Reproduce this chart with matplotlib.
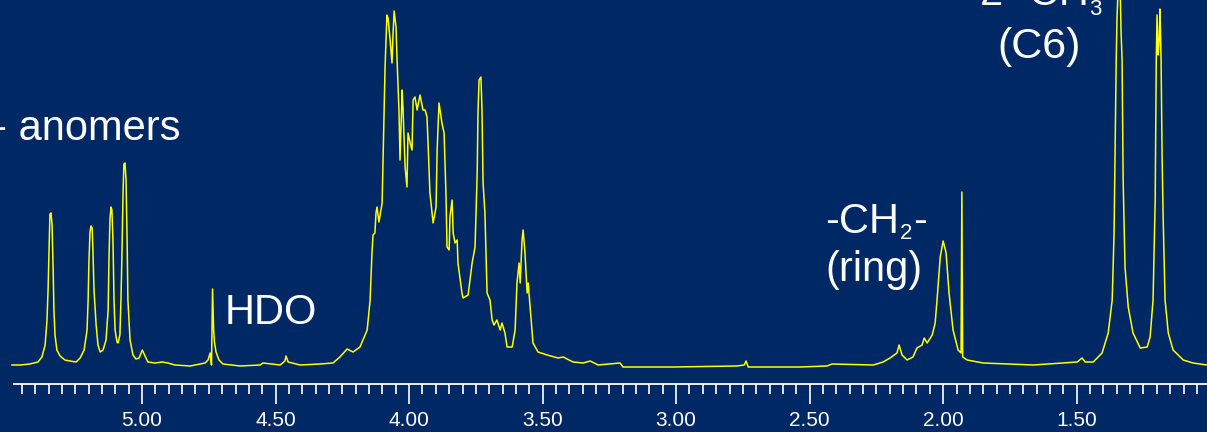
import matplotlib
matplotlib.use("Agg")
import matplotlib.pyplot as plt
from matplotlib.ticker import FixedLocator, FormatStrFormatter
import numpy as np

# ==========================================
# 1H NMR spectrum (D2O), chemical shift in ppm vs. relative intensity
# ==========================================
shift_ppm = [
    5.487, 5.457, 5.420, 5.390, 5.375, 5.363, 5.356, 5.352, 5.348, 5.345,
    5.341, 5.337, 5.333, 5.330, 5.326, 5.319, 5.307, 5.289, 5.270, 5.247,
    5.232, 5.217, 5.206, 5.202, 5.199, 5.195, 5.191, 5.187, 5.184, 5.180,
    5.172, 5.165, 5.157, 5.146, 5.135, 5.127, 5.124, 5.120, 5.116, 5.113,
    5.109, 5.105, 5.101, 5.094, 5.090, 5.083, 5.079, 5.075, 5.071, 5.068,
    5.064, 5.060, 5.056, 5.053, 5.045, 5.034, 5.023, 5.011, 4.999, 4.989,
    4.978, 4.951, 4.925, 4.903, 4.877, 4.820, 4.783, 4.764, 4.753, 4.745,
    4.740, 4.736, 4.732, 4.729, 4.723, 4.712, 4.697, 4.633, 4.558, 4.547,
    4.483, 4.465, 4.461, 4.453, 4.408, 4.334, 4.285, 4.259, 4.232, 4.210,
    4.184, 4.157, 4.146, 4.139, 4.135, 4.128, 4.124, 4.120, 4.113, 4.101,
    4.098, 4.090, 4.083, 4.079, 4.071, 4.064, 4.060, 4.056, 4.049, 4.045,
    4.038, 4.034, 4.026, 4.023, 4.015, 4.008, 4.004, 3.996, 3.989, 3.985,
    3.978, 3.970, 3.959, 3.948, 3.940, 3.933, 3.929, 3.922, 3.910, 3.899,
    3.895, 3.888, 3.877, 3.869, 3.862, 3.858, 3.850, 3.847, 3.839, 3.835,
    3.828, 3.820, 3.817, 3.802, 3.798, 3.779, 3.764, 3.753, 3.745, 3.742,
    3.738, 3.731, 3.727, 3.723, 3.716, 3.708, 3.697, 3.689, 3.682, 3.671,
    3.659, 3.652, 3.641, 3.633, 3.614, 3.603, 3.596, 3.588, 3.584, 3.577,
    3.573, 3.566, 3.558, 3.554, 3.543, 3.536, 3.517, 3.483, 3.442, 3.423,
    3.386, 3.348, 3.322, 3.292, 3.210, 3.199, 3.011, 2.772, 2.745, 2.738,
    2.730, 2.536, 2.435, 2.416, 2.262, 2.225, 2.199, 2.173, 2.165, 2.154,
    2.135, 2.113, 2.098, 2.079, 2.071, 2.060, 2.041, 2.030, 2.023, 2.011,
    2.000, 1.989, 1.978, 1.963, 1.944, 1.933, 1.930, 1.927, 1.910, 1.850,
    1.663, 1.498, 1.480, 1.468, 1.438, 1.405, 1.382, 1.367, 1.360, 1.356,
    1.352, 1.349, 1.345, 1.341, 1.337, 1.334, 1.330, 1.326, 1.319, 1.307,
    1.289, 1.262, 1.236, 1.225, 1.214, 1.206, 1.202, 1.199, 1.195, 1.191,
    1.188, 1.184, 1.180, 1.176, 1.169, 1.157, 1.139, 1.101, 1.064, 1.012,
]
intensity = [
    2, 2, 3, 5, 10, 22, 47, 77, 122, 153,
    154, 142, 97, 57, 32, 17, 11, 7, 6, 5,
    9, 17, 37, 67, 105, 135, 141, 139, 117, 77,
    42, 22, 15, 17, 27, 57, 107, 149, 160, 157,
    127, 67, 37, 25, 24, 32, 67, 117, 177, 203,
    204, 187, 127, 67, 27, 12, 8, 9, 17, 11,
    5, 4, 5, 4, 2, 1, 3, 4, 7, 14,
    2, 78, 37, 25, 15, 7, 3, 1, 2, 4,
    2, 6, 11, 5, 2, 3, 4, 10, 18, 15,
    20, 37, 67, 114, 132, 134, 154, 160, 145, 164,
    200, 300, 352, 349, 327, 304, 334, 356, 340, 307,
    257, 207, 277, 260, 200, 180, 234, 224, 217, 267,
    270, 257, 272, 257, 257, 250, 224, 174, 144, 160,
    217, 264, 244, 234, 174, 120, 117, 150, 167, 134,
    124, 127, 104, 74, 69, 72, 104, 120, 194, 254,
    287, 290, 257, 184, 154, 74, 67, 47, 42, 47,
    37, 44, 34, 20, 20, 37, 84, 104, 84, 127,
    137, 114, 74, 84, 47, 24, 15, 12, 9, 10,
    5, 4, 6, 2, 4, 0, 0, 1, 2, 6,
    0, 0, 1, 3, 2, 5, 9, 14, 22, 12,
    7, 10, 19, 22, 29, 24, 32, 44, 67, 110,
    126, 114, 74, 37, 17, 14, 175, 10, 7, 4,
    2, 5, 9, 5, 5, 14, 34, 67, 134, 217,
    307, 349, 377, 397, 377, 337, 307, 187, 100, 60,
    34, 19, 20, 30, 67, 167, 307, 352, 312, 327,
    358, 307, 207, 147, 67, 34, 17, 7, 4, 2,
]

major_ticks = [5.00, 4.50, 4.00, 3.50, 3.00, 2.50, 2.00, 1.50]

bg = '#002864'
fg = 'white'
line_color = '#ffff00'

plt.rcParams['font.family'] = ['Liberation Sans', 'DejaVu Sans']

W, H = 1207, 432
fig = plt.figure(figsize=(W / 100, H / 100), dpi=100, facecolor=bg)
ax = fig.add_axes([0, 48 / H, 1, 384 / H], facecolor=bg)

ax.plot(shift_ppm, intensity, color=line_color, lw=1.1, solid_joinstyle='round')

# ppm axis runs right to left
ax.set_xlim(5.532, 1.012)
ax.set_ylim(-17, 367)

for s in ['left', 'right', 'top']:
    ax.spines[s].set_visible(False)
ax.spines['bottom'].set_color(fg)
ax.spines['bottom'].set_linewidth(1.3)
ax.spines['bottom'].set_bounds(5.48, 1.012)

ax.yaxis.set_visible(False)
ax.xaxis.set_major_locator(FixedLocator(major_ticks))
ax.xaxis.set_major_formatter(FormatStrFormatter('%.2f'))
ax.xaxis.set_minor_locator(FixedLocator(np.round(np.arange(1.05, 5.46, 0.05), 2)))
ax.tick_params(axis='x', which='major', direction='out', length=14.5, width=1.2,
               color=fg, labelcolor=fg, pad=5)
ax.tick_params(axis='x', which='minor', direction='out', length=7.2, width=1.2, color=fg)
for lab in ax.get_xticklabels():
    lab.set_family(['Liberation Sans Narrow', 'Liberation Sans'])
    lab.set_fontsize(15)

# peak assignments
def px(x, y):
    return x / W, 1 - y / H

txt = dict(color=fg, fontsize=30, va='baseline')
sub = dict(color=fg, fontsize=16, va='baseline')
fig.text(*px(181, 140), 'α, β- anomers', ha='right', **txt)
fig.text(*px(225, 324), 'HDO', ha='left', **txt)

# -CH2- (ring), subscript set as its own smaller text
fig.text(*px(825, 233), '-CH', ha='left', **txt)
fig.text(*px(900, 239), '2', ha='left', **sub)
fig.text(*px(913, 233), '-', ha='left', **txt)
fig.text(*px(825, 281), '(ring)', ha='left', **txt)

# 2- CH3 (C6)
fig.text(*px(980, 5), '2- CH', ha='left', **txt)
fig.text(*px(1089, 15), '3', ha='left', **sub)
fig.text(*px(997, 58), '(C6)', ha='left', color=fg, fontsize=31, va='baseline')

plt.savefig('out.png', dpi=100, facecolor=bg)
